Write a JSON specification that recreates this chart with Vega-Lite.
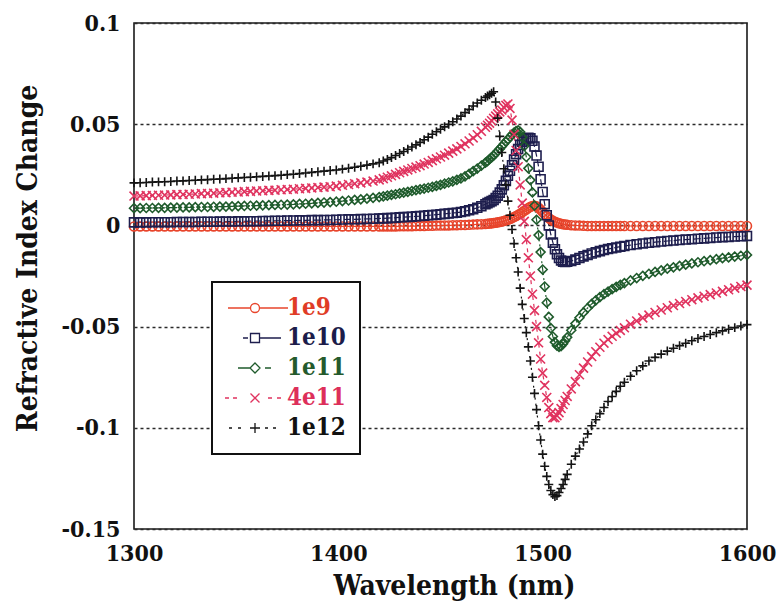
{
"$schema":"https://vega.github.io/schema/vega-lite/v6.json",
"width":613,"height":506,
"autosize":{"type":"none"},
"padding":{"left":134,"top":23,"right":34,"bottom":75},
"background":"white",
"data":{"values":[
{"s":"1e9","w":1300,"v":-0.0005},{"s":"1e9","w":1303,"v":-0.0005},{"s":"1e9","w":1306,"v":-0.0005},{"s":"1e9","w":1309,"v":-0.0005},{"s":"1e9","w":1312,"v":-0.0005},{"s":"1e9","w":1315,"v":-0.0005},{"s":"1e9","w":1318,"v":-0.0005},{"s":"1e9","w":1321,"v":-0.0005},{"s":"1e9","w":1324,"v":-0.0005},{"s":"1e9","w":1327,"v":-0.0005},{"s":"1e9","w":1330,"v":-0.0005},{"s":"1e9","w":1333,"v":-0.0005},{"s":"1e9","w":1336,"v":-0.0005},{"s":"1e9","w":1339,"v":-0.0005},{"s":"1e9","w":1342,"v":-0.0005},{"s":"1e9","w":1345,"v":-0.0005},{"s":"1e9","w":1348,"v":-0.0005},{"s":"1e9","w":1351,"v":-0.0005},{"s":"1e9","w":1354,"v":-0.0005},{"s":"1e9","w":1357,"v":-0.0005},{"s":"1e9","w":1360,"v":-0.0005},{"s":"1e9","w":1363,"v":-0.0005},{"s":"1e9","w":1366,"v":-0.0005},{"s":"1e9","w":1369,"v":-0.0005},{"s":"1e9","w":1372,"v":-0.0005},{"s":"1e9","w":1375,"v":-0.0005},{"s":"1e9","w":1378,"v":-0.0005},{"s":"1e9","w":1381,"v":-0.0005},{"s":"1e9","w":1384,"v":-0.0005},{"s":"1e9","w":1387,"v":-0.0005},{"s":"1e9","w":1390,"v":-0.0005},{"s":"1e9","w":1393,"v":-0.0005},{"s":"1e9","w":1396,"v":-0.0005},{"s":"1e9","w":1399,"v":-0.0005},{"s":"1e9","w":1402,"v":-0.0005},{"s":"1e9","w":1405,"v":-0.0005},{"s":"1e9","w":1408,"v":-0.0005},{"s":"1e9","w":1411,"v":-0.0005},{"s":"1e9","w":1414,"v":-0.0005},{"s":"1e9","w":1417,"v":-0.0005},{"s":"1e9","w":1420,"v":-0.0005},
{"s":"1e9","w":1422,"v":-0.0005},{"s":"1e9","w":1424,"v":-0.0005},{"s":"1e9","w":1426,"v":-0.0005},{"s":"1e9","w":1428,"v":-0.0005},{"s":"1e9","w":1430,"v":-0.0004},{"s":"1e9","w":1432,"v":-0.0004},{"s":"1e9","w":1434,"v":-0.0004},{"s":"1e9","w":1436,"v":-0.0004},{"s":"1e9","w":1438,"v":-0.0003},{"s":"1e9","w":1440,"v":-0.0003},{"s":"1e9","w":1442,"v":-0.0003},{"s":"1e9","w":1444,"v":-0.0002},{"s":"1e9","w":1446,"v":-0.0002},{"s":"1e9","w":1448,"v":-0.0001},{"s":"1e9","w":1450,"v":-0.0001},{"s":"1e9","w":1452,"v":0},{"s":"1e9","w":1454,"v":0},{"s":"1e9","w":1456,"v":0.0001},{"s":"1e9","w":1458,"v":0.0001},{"s":"1e9","w":1460,"v":0.0002},{"s":"1e9","w":1462,"v":0.0002},{"s":"1e9","w":1464,"v":0.0003},{"s":"1e9","w":1466,"v":0.0004},{"s":"1e9","w":1468,"v":0.0005},{"s":"1e9","w":1470,"v":0.0006},{"s":"1e9","w":1472,"v":0.0007},
{"s":"1e9","w":1473,"v":0.0008},{"s":"1e9","w":1474,"v":0.0009},{"s":"1e9","w":1475,"v":0.001},{"s":"1e9","w":1476,"v":0.0012},{"s":"1e9","w":1477,"v":0.0013},{"s":"1e9","w":1478,"v":0.0015},{"s":"1e9","w":1479,"v":0.0017},{"s":"1e9","w":1480,"v":0.0019},{"s":"1e9","w":1481,"v":0.0022},{"s":"1e9","w":1482,"v":0.0025},{"s":"1e9","w":1483,"v":0.0028},{"s":"1e9","w":1484,"v":0.0032},{"s":"1e9","w":1485,"v":0.0036},{"s":"1e9","w":1486,"v":0.0041},{"s":"1e9","w":1487,"v":0.0046},{"s":"1e9","w":1488,"v":0.0052},{"s":"1e9","w":1489,"v":0.0058},{"s":"1e9","w":1490,"v":0.0065},{"s":"1e9","w":1491,"v":0.0072},{"s":"1e9","w":1492,"v":0.0079},{"s":"1e9","w":1493,"v":0.0086},{"s":"1e9","w":1494,"v":0.0092},{"s":"1e9","w":1495,"v":0.0096},{"s":"1e9","w":1496,"v":0.0097},{"s":"1e9","w":1497,"v":0.0094},{"s":"1e9","w":1498,"v":0.0087},{"s":"1e9","w":1499,"v":0.0077},{"s":"1e9","w":1500,"v":0.0066},{"s":"1e9","w":1501,"v":0.0055},{"s":"1e9","w":1502,"v":0.0045},{"s":"1e9","w":1503,"v":0.0036},{"s":"1e9","w":1504,"v":0.0029},{"s":"1e9","w":1505,"v":0.0023},{"s":"1e9","w":1506,"v":0.0018},{"s":"1e9","w":1507,"v":0.0014},{"s":"1e9","w":1508,"v":0.0011},{"s":"1e9","w":1509,"v":0.0008},{"s":"1e9","w":1510,"v":0.0006},{"s":"1e9","w":1511,"v":0.0004},{"s":"1e9","w":1512,"v":0.0003},
{"s":"1e9","w":1514,"v":0.0001},{"s":"1e9","w":1516,"v":0},{"s":"1e9","w":1518,"v":-0.0001},{"s":"1e9","w":1520,"v":-0.0002},{"s":"1e9","w":1522,"v":-0.0003},{"s":"1e9","w":1524,"v":-0.0003},{"s":"1e9","w":1526,"v":-0.0003},{"s":"1e9","w":1528,"v":-0.0003},{"s":"1e9","w":1530,"v":-0.0003},{"s":"1e9","w":1532,"v":-0.0003},{"s":"1e9","w":1534,"v":-0.0003},{"s":"1e9","w":1536,"v":-0.0003},{"s":"1e9","w":1538,"v":-0.0003},{"s":"1e9","w":1540,"v":-0.0003},
{"s":"1e9","w":1543,"v":-0.0003},{"s":"1e9","w":1546,"v":-0.0003},{"s":"1e9","w":1549,"v":-0.0003},{"s":"1e9","w":1552,"v":-0.0003},{"s":"1e9","w":1555,"v":-0.0003},{"s":"1e9","w":1558,"v":-0.0003},{"s":"1e9","w":1561,"v":-0.0003},{"s":"1e9","w":1564,"v":-0.0003},{"s":"1e9","w":1567,"v":-0.0003},{"s":"1e9","w":1570,"v":-0.0003},{"s":"1e9","w":1573,"v":-0.0003},{"s":"1e9","w":1576,"v":-0.0003},{"s":"1e9","w":1579,"v":-0.0003},{"s":"1e9","w":1582,"v":-0.0003},{"s":"1e9","w":1585,"v":-0.0003},{"s":"1e9","w":1588,"v":-0.0003},{"s":"1e9","w":1591,"v":-0.0003},{"s":"1e9","w":1594,"v":-0.0003},{"s":"1e9","w":1597,"v":-0.0003},{"s":"1e9","w":1600,"v":-0.0003},

{"s":"1e10","w":1300,"v":0.0015},{"s":"1e10","w":1303,"v":0.0015},{"s":"1e10","w":1306,"v":0.0015},{"s":"1e10","w":1309,"v":0.0016},{"s":"1e10","w":1312,"v":0.0016},{"s":"1e10","w":1315,"v":0.0016},{"s":"1e10","w":1318,"v":0.0016},{"s":"1e10","w":1321,"v":0.0017},{"s":"1e10","w":1324,"v":0.0017},{"s":"1e10","w":1327,"v":0.0017},{"s":"1e10","w":1330,"v":0.0017},{"s":"1e10","w":1333,"v":0.0018},{"s":"1e10","w":1336,"v":0.0018},{"s":"1e10","w":1339,"v":0.0018},{"s":"1e10","w":1342,"v":0.0019},{"s":"1e10","w":1345,"v":0.0019},{"s":"1e10","w":1348,"v":0.0019},{"s":"1e10","w":1351,"v":0.002},{"s":"1e10","w":1354,"v":0.002},{"s":"1e10","w":1357,"v":0.0021},{"s":"1e10","w":1360,"v":0.0021},{"s":"1e10","w":1363,"v":0.0022},{"s":"1e10","w":1366,"v":0.0022},{"s":"1e10","w":1369,"v":0.0023},{"s":"1e10","w":1372,"v":0.0023},{"s":"1e10","w":1375,"v":0.0024},{"s":"1e10","w":1378,"v":0.0024},{"s":"1e10","w":1381,"v":0.0025},{"s":"1e10","w":1384,"v":0.0025},{"s":"1e10","w":1387,"v":0.0026},{"s":"1e10","w":1390,"v":0.0026},{"s":"1e10","w":1393,"v":0.0027},{"s":"1e10","w":1396,"v":0.0027},{"s":"1e10","w":1399,"v":0.0028},{"s":"1e10","w":1402,"v":0.0029},{"s":"1e10","w":1405,"v":0.003},{"s":"1e10","w":1408,"v":0.003},{"s":"1e10","w":1411,"v":0.0031},{"s":"1e10","w":1414,"v":0.0032},{"s":"1e10","w":1417,"v":0.0033},{"s":"1e10","w":1420,"v":0.0034},
{"s":"1e10","w":1422,"v":0.0035},{"s":"1e10","w":1424,"v":0.0036},{"s":"1e10","w":1426,"v":0.0037},{"s":"1e10","w":1428,"v":0.0038},{"s":"1e10","w":1430,"v":0.004},{"s":"1e10","w":1432,"v":0.0041},{"s":"1e10","w":1434,"v":0.0042},{"s":"1e10","w":1436,"v":0.0043},{"s":"1e10","w":1438,"v":0.0045},{"s":"1e10","w":1440,"v":0.0046},{"s":"1e10","w":1442,"v":0.0048},{"s":"1e10","w":1444,"v":0.005},{"s":"1e10","w":1446,"v":0.0051},{"s":"1e10","w":1448,"v":0.0053},{"s":"1e10","w":1450,"v":0.0055},{"s":"1e10","w":1452,"v":0.0057},{"s":"1e10","w":1454,"v":0.0059},{"s":"1e10","w":1456,"v":0.0061},{"s":"1e10","w":1458,"v":0.0063},{"s":"1e10","w":1460,"v":0.0066},{"s":"1e10","w":1462,"v":0.007},{"s":"1e10","w":1464,"v":0.0075},{"s":"1e10","w":1466,"v":0.008},{"s":"1e10","w":1468,"v":0.0087},{"s":"1e10","w":1470,"v":0.0095},{"s":"1e10","w":1472,"v":0.0105},
{"s":"1e10","w":1473,"v":0.011},{"s":"1e10","w":1474,"v":0.0115},{"s":"1e10","w":1475,"v":0.012},{"s":"1e10","w":1476,"v":0.0126},{"s":"1e10","w":1477,"v":0.0135},{"s":"1e10","w":1478,"v":0.0147},{"s":"1e10","w":1479,"v":0.0162},{"s":"1e10","w":1480,"v":0.0178},{"s":"1e10","w":1481,"v":0.0198},{"s":"1e10","w":1482,"v":0.022},{"s":"1e10","w":1483,"v":0.0245},{"s":"1e10","w":1484,"v":0.027},{"s":"1e10","w":1485,"v":0.0297},{"s":"1e10","w":1486,"v":0.0325},{"s":"1e10","w":1487,"v":0.0352},{"s":"1e10","w":1488,"v":0.0377},{"s":"1e10","w":1489,"v":0.0398},{"s":"1e10","w":1490,"v":0.0414},{"s":"1e10","w":1491,"v":0.0425},{"s":"1e10","w":1492,"v":0.0431},{"s":"1e10","w":1493,"v":0.0433},{"s":"1e10","w":1494,"v":0.043},{"s":"1e10","w":1495,"v":0.0418},{"s":"1e10","w":1496,"v":0.039},{"s":"1e10","w":1497,"v":0.0345},{"s":"1e10","w":1498,"v":0.029},{"s":"1e10","w":1499,"v":0.0228},{"s":"1e10","w":1500,"v":0.0165},{"s":"1e10","w":1501,"v":0.0105},{"s":"1e10","w":1502,"v":0.005},{"s":"1e10","w":1503,"v":0},{"s":"1e10","w":1504,"v":-0.0045},{"s":"1e10","w":1505,"v":-0.0085},{"s":"1e10","w":1506,"v":-0.0118},{"s":"1e10","w":1507,"v":-0.0143},{"s":"1e10","w":1508,"v":-0.0161},{"s":"1e10","w":1509,"v":-0.0173},{"s":"1e10","w":1510,"v":-0.0179},{"s":"1e10","w":1511,"v":-0.0181},{"s":"1e10","w":1512,"v":-0.018},
{"s":"1e10","w":1514,"v":-0.0176},{"s":"1e10","w":1516,"v":-0.0169},{"s":"1e10","w":1518,"v":-0.0161},{"s":"1e10","w":1520,"v":-0.0153},{"s":"1e10","w":1522,"v":-0.0146},{"s":"1e10","w":1524,"v":-0.0139},{"s":"1e10","w":1526,"v":-0.0133},{"s":"1e10","w":1528,"v":-0.0127},{"s":"1e10","w":1530,"v":-0.0122},{"s":"1e10","w":1532,"v":-0.0117},{"s":"1e10","w":1534,"v":-0.0113},{"s":"1e10","w":1536,"v":-0.0109},{"s":"1e10","w":1538,"v":-0.0105},{"s":"1e10","w":1540,"v":-0.0102},
{"s":"1e10","w":1543,"v":-0.0097},{"s":"1e10","w":1546,"v":-0.0093},{"s":"1e10","w":1549,"v":-0.0089},{"s":"1e10","w":1552,"v":-0.0086},{"s":"1e10","w":1555,"v":-0.0083},{"s":"1e10","w":1558,"v":-0.008},{"s":"1e10","w":1561,"v":-0.0077},{"s":"1e10","w":1564,"v":-0.0075},{"s":"1e10","w":1567,"v":-0.0072},{"s":"1e10","w":1570,"v":-0.007},{"s":"1e10","w":1573,"v":-0.0068},{"s":"1e10","w":1576,"v":-0.0066},{"s":"1e10","w":1579,"v":-0.0064},{"s":"1e10","w":1582,"v":-0.0062},{"s":"1e10","w":1585,"v":-0.006},{"s":"1e10","w":1588,"v":-0.0058},{"s":"1e10","w":1591,"v":-0.0057},{"s":"1e10","w":1594,"v":-0.0055},{"s":"1e10","w":1597,"v":-0.0054},{"s":"1e10","w":1600,"v":-0.0052},

{"s":"1e11","w":1300,"v":0.0085},{"s":"1e11","w":1303,"v":0.0085},{"s":"1e11","w":1306,"v":0.0086},{"s":"1e11","w":1309,"v":0.0086},{"s":"1e11","w":1312,"v":0.0087},{"s":"1e11","w":1315,"v":0.0087},{"s":"1e11","w":1318,"v":0.0088},{"s":"1e11","w":1321,"v":0.0088},{"s":"1e11","w":1324,"v":0.0089},{"s":"1e11","w":1327,"v":0.0089},{"s":"1e11","w":1330,"v":0.009},{"s":"1e11","w":1333,"v":0.0091},{"s":"1e11","w":1336,"v":0.0091},{"s":"1e11","w":1339,"v":0.0092},{"s":"1e11","w":1342,"v":0.0093},{"s":"1e11","w":1345,"v":0.0093},{"s":"1e11","w":1348,"v":0.0094},{"s":"1e11","w":1351,"v":0.0095},{"s":"1e11","w":1354,"v":0.0096},{"s":"1e11","w":1357,"v":0.0097},{"s":"1e11","w":1360,"v":0.0098},{"s":"1e11","w":1363,"v":0.0099},{"s":"1e11","w":1366,"v":0.01},{"s":"1e11","w":1369,"v":0.0101},{"s":"1e11","w":1372,"v":0.0102},{"s":"1e11","w":1375,"v":0.0103},{"s":"1e11","w":1378,"v":0.0104},{"s":"1e11","w":1381,"v":0.0106},{"s":"1e11","w":1384,"v":0.0107},{"s":"1e11","w":1387,"v":0.0109},{"s":"1e11","w":1390,"v":0.0111},{"s":"1e11","w":1393,"v":0.0113},{"s":"1e11","w":1396,"v":0.0115},{"s":"1e11","w":1399,"v":0.0117},{"s":"1e11","w":1402,"v":0.012},{"s":"1e11","w":1405,"v":0.0123},{"s":"1e11","w":1408,"v":0.0126},{"s":"1e11","w":1411,"v":0.0129},{"s":"1e11","w":1414,"v":0.0132},{"s":"1e11","w":1417,"v":0.0136},{"s":"1e11","w":1420,"v":0.014},
{"s":"1e11","w":1422,"v":0.0143},{"s":"1e11","w":1424,"v":0.0147},{"s":"1e11","w":1426,"v":0.0151},{"s":"1e11","w":1428,"v":0.0154},{"s":"1e11","w":1430,"v":0.0158},{"s":"1e11","w":1432,"v":0.0162},{"s":"1e11","w":1434,"v":0.0166},{"s":"1e11","w":1436,"v":0.017},{"s":"1e11","w":1438,"v":0.0174},{"s":"1e11","w":1440,"v":0.0178},{"s":"1e11","w":1442,"v":0.0182},{"s":"1e11","w":1444,"v":0.0186},{"s":"1e11","w":1446,"v":0.019},{"s":"1e11","w":1448,"v":0.0195},{"s":"1e11","w":1450,"v":0.02},{"s":"1e11","w":1452,"v":0.0206},{"s":"1e11","w":1454,"v":0.0212},{"s":"1e11","w":1456,"v":0.0218},{"s":"1e11","w":1458,"v":0.0225},{"s":"1e11","w":1460,"v":0.0232},{"s":"1e11","w":1462,"v":0.0242},{"s":"1e11","w":1464,"v":0.0255},{"s":"1e11","w":1466,"v":0.0268},{"s":"1e11","w":1468,"v":0.0281},{"s":"1e11","w":1470,"v":0.0295},{"s":"1e11","w":1472,"v":0.031},
{"s":"1e11","w":1473,"v":0.0318},{"s":"1e11","w":1474,"v":0.0327},{"s":"1e11","w":1475,"v":0.0336},{"s":"1e11","w":1476,"v":0.0345},{"s":"1e11","w":1477,"v":0.0356},{"s":"1e11","w":1478,"v":0.0367},{"s":"1e11","w":1479,"v":0.0378},{"s":"1e11","w":1480,"v":0.039},{"s":"1e11","w":1481,"v":0.0402},{"s":"1e11","w":1482,"v":0.0414},{"s":"1e11","w":1483,"v":0.0425},{"s":"1e11","w":1484,"v":0.0437},{"s":"1e11","w":1485,"v":0.0449},{"s":"1e11","w":1486,"v":0.0459},{"s":"1e11","w":1487,"v":0.0466},{"s":"1e11","w":1488,"v":0.047},{"s":"1e11","w":1489,"v":0.0462},{"s":"1e11","w":1490,"v":0.0436},{"s":"1e11","w":1491,"v":0.0392},{"s":"1e11","w":1492,"v":0.0338},{"s":"1e11","w":1493,"v":0.0282},{"s":"1e11","w":1494,"v":0.0224},{"s":"1e11","w":1495,"v":0.0163},{"s":"1e11","w":1496,"v":0.0098},{"s":"1e11","w":1497,"v":0.0028},{"s":"1e11","w":1498,"v":-0.0048},{"s":"1e11","w":1499,"v":-0.0132},{"s":"1e11","w":1500,"v":-0.0218},{"s":"1e11","w":1501,"v":-0.0302},{"s":"1e11","w":1502,"v":-0.0382},{"s":"1e11","w":1503,"v":-0.0452},{"s":"1e11","w":1504,"v":-0.0508},{"s":"1e11","w":1505,"v":-0.0549},{"s":"1e11","w":1506,"v":-0.0577},{"s":"1e11","w":1507,"v":-0.0594},{"s":"1e11","w":1508,"v":-0.06},{"s":"1e11","w":1509,"v":-0.0596},{"s":"1e11","w":1510,"v":-0.0585},{"s":"1e11","w":1511,"v":-0.057},{"s":"1e11","w":1512,"v":-0.0553},
{"s":"1e11","w":1514,"v":-0.0518},{"s":"1e11","w":1516,"v":-0.0485},{"s":"1e11","w":1518,"v":-0.0456},{"s":"1e11","w":1520,"v":-0.043},{"s":"1e11","w":1522,"v":-0.0408},{"s":"1e11","w":1524,"v":-0.0388},{"s":"1e11","w":1526,"v":-0.037},{"s":"1e11","w":1528,"v":-0.0354},{"s":"1e11","w":1530,"v":-0.034},{"s":"1e11","w":1532,"v":-0.0327},{"s":"1e11","w":1534,"v":-0.0315},{"s":"1e11","w":1536,"v":-0.0304},{"s":"1e11","w":1538,"v":-0.0294},{"s":"1e11","w":1540,"v":-0.0285},
{"s":"1e11","w":1543,"v":-0.0272},{"s":"1e11","w":1546,"v":-0.026},{"s":"1e11","w":1549,"v":-0.0249},{"s":"1e11","w":1552,"v":-0.0239},{"s":"1e11","w":1555,"v":-0.023},{"s":"1e11","w":1558,"v":-0.0222},{"s":"1e11","w":1561,"v":-0.0214},{"s":"1e11","w":1564,"v":-0.0207},{"s":"1e11","w":1567,"v":-0.02},{"s":"1e11","w":1570,"v":-0.0194},{"s":"1e11","w":1573,"v":-0.0188},{"s":"1e11","w":1576,"v":-0.0182},{"s":"1e11","w":1579,"v":-0.0177},{"s":"1e11","w":1582,"v":-0.0172},{"s":"1e11","w":1585,"v":-0.0167},{"s":"1e11","w":1588,"v":-0.0162},{"s":"1e11","w":1591,"v":-0.0158},{"s":"1e11","w":1594,"v":-0.0154},{"s":"1e11","w":1597,"v":-0.015},{"s":"1e11","w":1600,"v":-0.0146},

{"s":"4e11","w":1300,"v":0.0145},{"s":"4e11","w":1303,"v":0.0146},{"s":"4e11","w":1306,"v":0.0147},{"s":"4e11","w":1309,"v":0.0148},{"s":"4e11","w":1312,"v":0.0149},{"s":"4e11","w":1315,"v":0.015},{"s":"4e11","w":1318,"v":0.0151},{"s":"4e11","w":1321,"v":0.0152},{"s":"4e11","w":1324,"v":0.0153},{"s":"4e11","w":1327,"v":0.0154},{"s":"4e11","w":1330,"v":0.0155},{"s":"4e11","w":1333,"v":0.0157},{"s":"4e11","w":1336,"v":0.0158},{"s":"4e11","w":1339,"v":0.0159},{"s":"4e11","w":1342,"v":0.0161},{"s":"4e11","w":1345,"v":0.0162},{"s":"4e11","w":1348,"v":0.0164},{"s":"4e11","w":1351,"v":0.0165},{"s":"4e11","w":1354,"v":0.0167},{"s":"4e11","w":1357,"v":0.0168},{"s":"4e11","w":1360,"v":0.017},{"s":"4e11","w":1363,"v":0.0171},{"s":"4e11","w":1366,"v":0.0173},{"s":"4e11","w":1369,"v":0.0174},{"s":"4e11","w":1372,"v":0.0176},{"s":"4e11","w":1375,"v":0.0177},{"s":"4e11","w":1378,"v":0.0179},{"s":"4e11","w":1381,"v":0.0181},{"s":"4e11","w":1384,"v":0.0183},{"s":"4e11","w":1387,"v":0.0185},{"s":"4e11","w":1390,"v":0.0187},{"s":"4e11","w":1393,"v":0.0189},{"s":"4e11","w":1396,"v":0.0191},{"s":"4e11","w":1399,"v":0.0194},{"s":"4e11","w":1402,"v":0.0198},{"s":"4e11","w":1405,"v":0.0202},{"s":"4e11","w":1408,"v":0.0206},{"s":"4e11","w":1411,"v":0.021},{"s":"4e11","w":1414,"v":0.0214},{"s":"4e11","w":1417,"v":0.0219},{"s":"4e11","w":1420,"v":0.0225},
{"s":"4e11","w":1422,"v":0.0231},{"s":"4e11","w":1424,"v":0.0238},{"s":"4e11","w":1426,"v":0.0245},{"s":"4e11","w":1428,"v":0.0252},{"s":"4e11","w":1430,"v":0.026},{"s":"4e11","w":1432,"v":0.0267},{"s":"4e11","w":1434,"v":0.0274},{"s":"4e11","w":1436,"v":0.0281},{"s":"4e11","w":1438,"v":0.0288},{"s":"4e11","w":1440,"v":0.0295},{"s":"4e11","w":1442,"v":0.0303},{"s":"4e11","w":1444,"v":0.0311},{"s":"4e11","w":1446,"v":0.032},{"s":"4e11","w":1448,"v":0.0329},{"s":"4e11","w":1450,"v":0.0338},{"s":"4e11","w":1452,"v":0.0347},{"s":"4e11","w":1454,"v":0.0357},{"s":"4e11","w":1456,"v":0.0367},{"s":"4e11","w":1458,"v":0.0378},{"s":"4e11","w":1460,"v":0.039},{"s":"4e11","w":1462,"v":0.0403},{"s":"4e11","w":1464,"v":0.0417},{"s":"4e11","w":1466,"v":0.0432},{"s":"4e11","w":1468,"v":0.0448},{"s":"4e11","w":1470,"v":0.0465},{"s":"4e11","w":1472,"v":0.0485},
{"s":"4e11","w":1473,"v":0.0495},{"s":"4e11","w":1474,"v":0.0505},{"s":"4e11","w":1475,"v":0.0517},{"s":"4e11","w":1476,"v":0.0529},{"s":"4e11","w":1477,"v":0.054},{"s":"4e11","w":1478,"v":0.0551},{"s":"4e11","w":1479,"v":0.0561},{"s":"4e11","w":1480,"v":0.057},{"s":"4e11","w":1481,"v":0.0583},{"s":"4e11","w":1482,"v":0.0593},{"s":"4e11","w":1483,"v":0.06},{"s":"4e11","w":1484,"v":0.0578},{"s":"4e11","w":1485,"v":0.052},{"s":"4e11","w":1486,"v":0.045},{"s":"4e11","w":1487,"v":0.037},{"s":"4e11","w":1488,"v":0.029},{"s":"4e11","w":1489,"v":0.02},{"s":"4e11","w":1490,"v":0.011},{"s":"4e11","w":1491,"v":0.002},{"s":"4e11","w":1492,"v":-0.007},{"s":"4e11","w":1493,"v":-0.016},{"s":"4e11","w":1494,"v":-0.025},{"s":"4e11","w":1495,"v":-0.034},{"s":"4e11","w":1496,"v":-0.042},{"s":"4e11","w":1497,"v":-0.05},{"s":"4e11","w":1498,"v":-0.058},{"s":"4e11","w":1499,"v":-0.066},{"s":"4e11","w":1500,"v":-0.073},{"s":"4e11","w":1501,"v":-0.079},{"s":"4e11","w":1502,"v":-0.085},{"s":"4e11","w":1503,"v":-0.09},{"s":"4e11","w":1504,"v":-0.093},{"s":"4e11","w":1505,"v":-0.095},{"s":"4e11","w":1506,"v":-0.095},{"s":"4e11","w":1507,"v":-0.094},{"s":"4e11","w":1508,"v":-0.0925},{"s":"4e11","w":1509,"v":-0.0905},{"s":"4e11","w":1510,"v":-0.0885},{"s":"4e11","w":1511,"v":-0.0865},{"s":"4e11","w":1512,"v":-0.0845},
{"s":"4e11","w":1514,"v":-0.0808},{"s":"4e11","w":1516,"v":-0.0772},{"s":"4e11","w":1518,"v":-0.0738},{"s":"4e11","w":1520,"v":-0.0705},{"s":"4e11","w":1522,"v":-0.0675},{"s":"4e11","w":1524,"v":-0.0648},{"s":"4e11","w":1526,"v":-0.0624},{"s":"4e11","w":1528,"v":-0.0602},{"s":"4e11","w":1530,"v":-0.0582},{"s":"4e11","w":1532,"v":-0.0564},{"s":"4e11","w":1534,"v":-0.0548},{"s":"4e11","w":1536,"v":-0.0533},{"s":"4e11","w":1538,"v":-0.0519},{"s":"4e11","w":1540,"v":-0.0506},
{"s":"4e11","w":1543,"v":-0.0488},{"s":"4e11","w":1546,"v":-0.0472},{"s":"4e11","w":1549,"v":-0.0457},{"s":"4e11","w":1552,"v":-0.0443},{"s":"4e11","w":1555,"v":-0.043},{"s":"4e11","w":1558,"v":-0.0418},{"s":"4e11","w":1561,"v":-0.0407},{"s":"4e11","w":1564,"v":-0.0396},{"s":"4e11","w":1567,"v":-0.0386},{"s":"4e11","w":1570,"v":-0.0376},{"s":"4e11","w":1573,"v":-0.0367},{"s":"4e11","w":1576,"v":-0.0358},{"s":"4e11","w":1579,"v":-0.035},{"s":"4e11","w":1582,"v":-0.0342},{"s":"4e11","w":1585,"v":-0.0334},{"s":"4e11","w":1588,"v":-0.0326},{"s":"4e11","w":1591,"v":-0.0318},{"s":"4e11","w":1594,"v":-0.031},{"s":"4e11","w":1597,"v":-0.0302},{"s":"4e11","w":1600,"v":-0.0295},

{"s":"1e12","w":1300,"v":0.021},{"s":"1e12","w":1303,"v":0.0211},{"s":"1e12","w":1306,"v":0.0212},{"s":"1e12","w":1309,"v":0.0214},{"s":"1e12","w":1312,"v":0.0215},{"s":"1e12","w":1315,"v":0.0216},{"s":"1e12","w":1318,"v":0.0217},{"s":"1e12","w":1321,"v":0.0219},{"s":"1e12","w":1324,"v":0.022},{"s":"1e12","w":1327,"v":0.0222},{"s":"1e12","w":1330,"v":0.0223},{"s":"1e12","w":1333,"v":0.0225},{"s":"1e12","w":1336,"v":0.0226},{"s":"1e12","w":1339,"v":0.0228},{"s":"1e12","w":1342,"v":0.0229},{"s":"1e12","w":1345,"v":0.0231},{"s":"1e12","w":1348,"v":0.0233},{"s":"1e12","w":1351,"v":0.0235},{"s":"1e12","w":1354,"v":0.0237},{"s":"1e12","w":1357,"v":0.0238},{"s":"1e12","w":1360,"v":0.024},{"s":"1e12","w":1363,"v":0.0242},{"s":"1e12","w":1366,"v":0.0244},{"s":"1e12","w":1369,"v":0.0246},{"s":"1e12","w":1372,"v":0.0248},{"s":"1e12","w":1375,"v":0.0251},{"s":"1e12","w":1378,"v":0.0253},{"s":"1e12","w":1381,"v":0.0256},{"s":"1e12","w":1384,"v":0.0259},{"s":"1e12","w":1387,"v":0.0262},{"s":"1e12","w":1390,"v":0.0265},{"s":"1e12","w":1393,"v":0.0268},{"s":"1e12","w":1396,"v":0.0271},{"s":"1e12","w":1399,"v":0.0274},{"s":"1e12","w":1402,"v":0.0278},{"s":"1e12","w":1405,"v":0.0282},{"s":"1e12","w":1408,"v":0.0287},{"s":"1e12","w":1411,"v":0.0292},{"s":"1e12","w":1414,"v":0.0298},{"s":"1e12","w":1417,"v":0.0304},{"s":"1e12","w":1420,"v":0.031},
{"s":"1e12","w":1422,"v":0.0318},{"s":"1e12","w":1424,"v":0.0326},{"s":"1e12","w":1426,"v":0.0335},{"s":"1e12","w":1428,"v":0.0345},{"s":"1e12","w":1430,"v":0.0355},{"s":"1e12","w":1432,"v":0.0365},{"s":"1e12","w":1434,"v":0.0376},{"s":"1e12","w":1436,"v":0.0387},{"s":"1e12","w":1438,"v":0.0398},{"s":"1e12","w":1440,"v":0.041},{"s":"1e12","w":1442,"v":0.0423},{"s":"1e12","w":1444,"v":0.0436},{"s":"1e12","w":1446,"v":0.045},{"s":"1e12","w":1448,"v":0.0463},{"s":"1e12","w":1450,"v":0.0475},{"s":"1e12","w":1452,"v":0.0487},{"s":"1e12","w":1454,"v":0.0499},{"s":"1e12","w":1456,"v":0.0512},{"s":"1e12","w":1458,"v":0.0526},{"s":"1e12","w":1460,"v":0.054},{"s":"1e12","w":1462,"v":0.0557},{"s":"1e12","w":1464,"v":0.0573},{"s":"1e12","w":1466,"v":0.059},{"s":"1e12","w":1468,"v":0.0605},{"s":"1e12","w":1470,"v":0.0618},{"s":"1e12","w":1472,"v":0.0632},
{"s":"1e12","w":1473,"v":0.0639},{"s":"1e12","w":1474,"v":0.0645},{"s":"1e12","w":1475,"v":0.0653},{"s":"1e12","w":1476,"v":0.066},{"s":"1e12","w":1477,"v":0.061},{"s":"1e12","w":1478,"v":0.053},{"s":"1e12","w":1479,"v":0.044},{"s":"1e12","w":1480,"v":0.036},{"s":"1e12","w":1481,"v":0.028},{"s":"1e12","w":1482,"v":0.02},{"s":"1e12","w":1483,"v":0.012},{"s":"1e12","w":1484,"v":0.005},{"s":"1e12","w":1485,"v":-0.002},{"s":"1e12","w":1486,"v":-0.009},{"s":"1e12","w":1487,"v":-0.016},{"s":"1e12","w":1488,"v":-0.023},{"s":"1e12","w":1489,"v":-0.031},{"s":"1e12","w":1490,"v":-0.039},{"s":"1e12","w":1491,"v":-0.046},{"s":"1e12","w":1492,"v":-0.053},{"s":"1e12","w":1493,"v":-0.06},{"s":"1e12","w":1494,"v":-0.067},{"s":"1e12","w":1495,"v":-0.075},{"s":"1e12","w":1496,"v":-0.083},{"s":"1e12","w":1497,"v":-0.091},{"s":"1e12","w":1498,"v":-0.099},{"s":"1e12","w":1499,"v":-0.106},{"s":"1e12","w":1500,"v":-0.113},{"s":"1e12","w":1501,"v":-0.119},{"s":"1e12","w":1502,"v":-0.124},{"s":"1e12","w":1503,"v":-0.128},{"s":"1e12","w":1504,"v":-0.131},{"s":"1e12","w":1505,"v":-0.133},{"s":"1e12","w":1506,"v":-0.134},{"s":"1e12","w":1507,"v":-0.1335},{"s":"1e12","w":1508,"v":-0.132},{"s":"1e12","w":1509,"v":-0.13},{"s":"1e12","w":1510,"v":-0.128},{"s":"1e12","w":1511,"v":-0.1255},{"s":"1e12","w":1512,"v":-0.123},
{"s":"1e12","w":1514,"v":-0.118},{"s":"1e12","w":1516,"v":-0.114},{"s":"1e12","w":1518,"v":-0.1105},{"s":"1e12","w":1520,"v":-0.107},{"s":"1e12","w":1522,"v":-0.103},{"s":"1e12","w":1524,"v":-0.099},{"s":"1e12","w":1526,"v":-0.096},{"s":"1e12","w":1528,"v":-0.093},{"s":"1e12","w":1530,"v":-0.09},{"s":"1e12","w":1532,"v":-0.087},{"s":"1e12","w":1534,"v":-0.0845},{"s":"1e12","w":1536,"v":-0.082},{"s":"1e12","w":1538,"v":-0.0795},{"s":"1e12","w":1540,"v":-0.0775},
{"s":"1e12","w":1543,"v":-0.0745},{"s":"1e12","w":1546,"v":-0.0718},{"s":"1e12","w":1549,"v":-0.0694},{"s":"1e12","w":1552,"v":-0.067},{"s":"1e12","w":1555,"v":-0.0652},{"s":"1e12","w":1558,"v":-0.0636},{"s":"1e12","w":1561,"v":-0.0621},{"s":"1e12","w":1564,"v":-0.0607},{"s":"1e12","w":1567,"v":-0.0594},{"s":"1e12","w":1570,"v":-0.0582},{"s":"1e12","w":1573,"v":-0.057},{"s":"1e12","w":1576,"v":-0.0559},{"s":"1e12","w":1579,"v":-0.0549},{"s":"1e12","w":1582,"v":-0.0539},{"s":"1e12","w":1585,"v":-0.053},{"s":"1e12","w":1588,"v":-0.0521},{"s":"1e12","w":1591,"v":-0.0513},{"s":"1e12","w":1594,"v":-0.0505},{"s":"1e12","w":1597,"v":-0.0497},{"s":"1e12","w":1600,"v":-0.049}
]},
"encoding":{
 "x":{"field":"w","type":"quantitative","scale":{"domain":[1300,1600],"nice":false,"zero":false},
  "axis":{"values":[1300,1400,1500,1600],"format":"d","title":"Wavelength (nm)","grid":false,"ticks":false,"tickSize":0,"domain":false,
   "labelPadding":31,"labelBaseline":"alphabetic","labelFont":"DejaVu Serif Condensed, DejaVu Serif","labelFontSize":23,"labelFontWeight":"bold","labelColor":"#111111","labelFlush":false,"labelOverlap":false,
   "titleFont":"DejaVu Serif Condensed, DejaVu Serif","titleFontSize":28,"titleFontWeight":"bold","titleColor":"#111111","titleX":320,"titleY":65,"titleAlign":"center","titleBaseline":"alphabetic"}},
 "y":{"field":"v","type":"quantitative","scale":{"domain":[-0.15,0.1],"nice":false,"zero":false},
  "axis":{"values":[-0.15,-0.1,-0.05,0,0.05,0.1],"labelExpr":"'' + datum.value","title":"Refractive Index Change",
   "grid":true,"gridDash":[3,3],"gridColor":"#2a2a2a","gridWidth":1.3,"ticks":false,"tickSize":0,"domain":false,
   "labelPadding":14,"labelFont":"DejaVu Serif Condensed, DejaVu Serif","labelFontSize":23,"labelFontWeight":"bold","labelColor":"#111111","labelFlush":false,"labelOverlap":false,
   "titleFont":"DejaVu Serif Condensed, DejaVu Serif","titleFontSize":28,"titleFontWeight":"bold","titleColor":"#111111","titleAngle":-90,"titleX":-98,"titleY":235,"titleAlign":"center","titleBaseline":"alphabetic"}},
 "color":{"field":"s","type":"nominal",
  "scale":{"domain":["1e9","1e10","1e11","4e11","1e12"],"range":["#e8452c","#1e1e4e","#1f5b2c","#e0335f","#141414"]},
  "legend":{"orient":"none","legendX":78,"legendY":259,"title":null,"direction":"vertical","padding":14,
   "fillColor":"white","strokeColor":"#111111",
   "labelFont":"DejaVu Serif Condensed, DejaVu Serif","labelFontSize":24,"labelFontWeight":"bold","labelOffset":20,
   "symbolOffset":17,"symbolSize":400,"symbolStrokeWidth":1.3,"rowPadding":6,
   "encode":{
    "symbols":{"update":{
     "shape":[
      {"test":"datum.value === '1e9'","value":"M-2.7,0H-0.45M0.45,0H3.3M-0.45,0A0.45,0.45 0 1,1 0.45,0A0.45,0.45 0 1,1 -0.45,0"},
      {"test":"datum.value === '1e10'","value":"M-1.2,0H-0.7M-0.45,-0.45H0.45V0.45H-0.45ZM0.45,0H2.6"},
      {"test":"datum.value === '1e11'","value":"M-1.7,0H-0.5M0,-0.5L0.5,0L0,0.5L-0.5,0ZM1,0H1.6"},
      {"test":"datum.value === '4e11'","value":"M-3,0H-2.6M-2.2,0H-1.8M-0.45,-0.45L0.45,0.45M-0.45,0.45L0.45,-0.45M1.3,0H1.7M2.2,0H2.6"},
      {"value":"M-2.6,0H-2.3M-1.7,0H-1.4M-0.5,0H0.5M0,-0.5V0.5M1,0H1.3M1.8,0H2.1"}],
     "size":{"value":400},
     "opacity":{"value":1},
     "fill":{"value":"transparent"},
     "strokeDash":{"value":[]}
    }},
    "labels":{"update":{
     "fill":[
      {"test":"datum.value === '1e9'","value":"#e03c26"},
      {"test":"datum.value === '1e10'","value":"#1c1c4a"},
      {"test":"datum.value === '1e11'","value":"#245a2c"},
      {"test":"datum.value === '4e11'","value":"#dd2f5a"},
      {"value":"#111111"}]
    }},
    "legend":{"update":{"strokeWidth":{"value":2}}}
   }}}
},
"layer":[
 {"mark":{"type":"line","strokeWidth":1.2},
  "encoding":{"strokeDash":{"field":"s","type":"nominal","scale":{"range":[[7,3],[9,3,2,3],[2,4],[1,0],[4,4]]},"legend":null}}},
 {"mark":{"type":"point","filled":false,"size":80,"strokeWidth":1.6,"opacity":1},
  "encoding":{"shape":{"field":"s","type":"nominal","scale":{"range":["square","diamond","M-1,0H1M0,-1V1","circle","M-1,-1L1,1M-1,1L1,-1"]},"legend":null}}}
],
"config":{"view":{"stroke":"#1a1a1a","strokeWidth":1.6}}
}
